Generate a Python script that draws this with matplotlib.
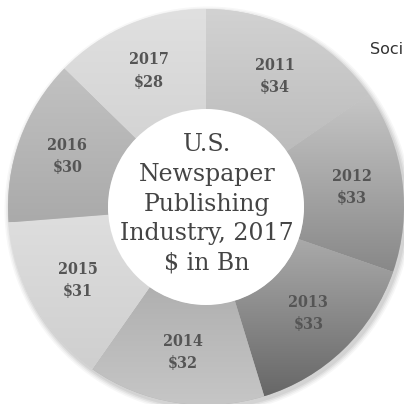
import numpy as np
import matplotlib
matplotlib.use("Agg")
import matplotlib.pyplot as plt
from matplotlib.colors import LinearSegmentedColormap
from matplotlib.patches import Circle

years = ["2011", "2012", "2013", "2014", "2015", "2016", "2017"]
revenue = [34, 33, 33, 32, 31, 30, 28]
center_title = "U.S.\nNewspaper\nPublishing\nIndustry, 2017\n$ in Bn"

# top / bottom shade of each wedge
shades = [("#d2d2d2", "#bcbcbc"), ("#c6c6c6", "#888888"), ("#aaaaaa", "#676767"),
          ("#b0b0b0", "#c6c6c6"), ("#dedede", "#cfcfcf"), ("#c2c2c2", "#aaaaaa"),
          ("#e0e0e0", "#d4d4d4")]

fig = plt.figure(figsize=(4.04, 4.04), dpi=100)
ax = fig.add_axes([0, 0, 1, 1])
ax.axis("off")

cx, cy, R, ring = 206, 197, 198, 100

# soft shadow round the ring
for k, a in enumerate([0.06, 0.05, 0.04, 0.03]):
    ax.add_patch(Circle((cx + 2, cy - 3), R + 1 + k * 1.5, color="black", alpha=a,
                        lw=0, zorder=0))

labels = [f"{y}\n${v}" for y, v in zip(years, revenue)]
wedges, texts = ax.pie(revenue, labels=labels, center=(cx, cy), radius=R,
                       startangle=90, counterclock=False, labeldistance=0.745,
                       wedgeprops=dict(width=ring, edgecolor="none"),
                       textprops=dict(family="DejaVu Serif", stretch="condensed",
                                      weight="bold", fontsize=11.5,
                                      color="#555555", ha="center", va="center",
                                      linespacing=1.4))

for w, (top, bot) in zip(wedges, shades):
    w.set_facecolor(top)
    t = np.radians(np.linspace(w.theta1, w.theta2, 60))
    ys = np.concatenate([cy + R * np.sin(t), cy + (R - ring) * np.sin(t)])
    xs = np.concatenate([cx + R * np.cos(t), cx + (R - ring) * np.cos(t)])
    cmap = LinearSegmentedColormap.from_list("g", [bot, top])
    grad = np.linspace(0, 1, 256).reshape(-1, 1)
    im = ax.imshow(grad, extent=[xs.min(), xs.max(), ys.min(), ys.max()],
                   origin="lower", cmap=cmap, aspect="auto", zorder=w.get_zorder())
    im.set_clip_path(w)

for t in texts:
    t.set_zorder(5)

ax.add_patch(Circle((cx, cy), R - ring, color="white", lw=0, zorder=4))
ax.text(cx + 1, cy + 3, center_title, ha="center", va="center", family="DejaVu Serif",
        fontsize=17, color="#444444", linespacing=1.37, zorder=6)
ax.text(370, 355, "Soci", ha="left", va="center", fontsize=11.5, color="#333333")

ax.set_xlim(0, 404)
ax.set_ylim(0, 404)
ax.set_aspect("equal")
fig.savefig("out.png", dpi=100)
